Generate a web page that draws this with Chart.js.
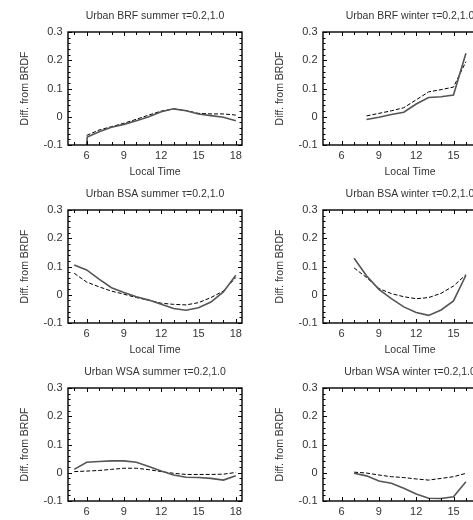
<!DOCTYPE html>
<html>
<head>
<meta charset="utf-8">
<script src="https://cdn.jsdelivr.net/npm/chart.js@4.4.1/dist/chart.umd.min.js"></script>
<style>
  html, body { margin: 0; padding: 0; background: #fff; overflow: hidden; width: 473px; height: 520px; }
  canvas { position: absolute; }
</style>
</head>
<body>
<canvas id="brfSummer" width="250" height="178" style="left:0;top:0"></canvas>
<canvas id="brfWinter" width="250" height="178" style="left:255px;top:0"></canvas>
<canvas id="bsaSummer" width="250" height="178" style="left:0;top:178px"></canvas>
<canvas id="bsaWinter" width="250" height="178" style="left:255px;top:178px"></canvas>
<canvas id="wsaSummer" width="250" height="178" style="left:0;top:356px"></canvas>
<canvas id="wsaWinter" width="250" height="178" style="left:255px;top:356px"></canvas>
<script>
// tick labels
const xTicks = [6, 9, 12, 15, 18];
const yTicks = [-0.1, 0, 0.1, 0.2, 0.3];

// local hours
const summerHours = [5, 6, 7, 8, 9, 10, 11, 12, 13, 14, 15, 16, 17, 18];
const winterHours = [7, 8, 9, 10, 11, 12, 13, 14, 15, 16];

// BRF summer (starts at 6h)
const brfSummerSolidHours = [6, 6.05, 7, 8, 9, 10, 11, 12, 13, 14, 15, 16, 17, 18];
const brfSummerSolid = [-0.1, -0.072, -0.053, -0.037, -0.027, -0.014, 0.0, 0.018, 0.028, 0.021, 0.010, 0.004, -0.002, -0.014];
const brfSummerDashedHours = [6, 7, 8, 9, 10, 11, 12, 13, 14, 15, 16, 17, 18];
const brfSummerDashed = [-0.066, -0.047, -0.035, -0.023, -0.009, 0.006, 0.020, 0.028, 0.022, 0.012, 0.010, 0.010, 0.006];

// BRF winter (8h - 16h)
const brfWinterHours = [8, 9, 10, 11, 12, 13, 14, 15, 16];
const brfWinterSolid = [-0.010, -0.002, 0.008, 0.016, 0.045, 0.068, 0.071, 0.077, 0.225];
const brfWinterDashed = [0.003, 0.012, 0.021, 0.032, 0.060, 0.088, 0.096, 0.105, 0.195];

// BSA
const bsaSummerSolid = [0.105, 0.088, 0.055, 0.025, 0.008, -0.007, -0.019, -0.034, -0.049, -0.055, -0.046, -0.026, 0.010, 0.069];
const bsaSummerDashed = [0.076, 0.045, 0.028, 0.013, 0.002, -0.010, -0.019, -0.030, -0.034, -0.036, -0.028, -0.010, 0.013, 0.061];
const bsaWinterSolid = [0.129, 0.067, 0.019, -0.014, -0.043, -0.063, -0.073, -0.054, -0.022, 0.069];
const bsaWinterDashed = [0.095, 0.061, 0.022, 0.004, -0.007, -0.014, -0.010, 0.005, 0.031, 0.071];

// WSA
const wsaSummerSolid = [0.012, 0.037, 0.040, 0.042, 0.042, 0.037, 0.022, 0.006, -0.008, -0.016, -0.017, -0.020, -0.026, -0.011];
const wsaSummerDashed = [0.004, 0.006, 0.008, 0.012, 0.016, 0.016, 0.011, 0.004, -0.002, -0.006, -0.006, -0.006, -0.005, 0.001];
const wsaWinterSolid = [-0.002, -0.011, -0.029, -0.037, -0.055, -0.075, -0.090, -0.091, -0.085, -0.032];
const wsaWinterDashed = [0.002, -0.001, -0.008, -0.014, -0.017, -0.022, -0.026, -0.020, -0.014, -0.002];

const fontFamily = "'Liberation Sans', Arial, sans-serif";
const textColor = '#333';

function pts(hours, vals) {
    return hours.map((h, i) => ({ x: h, y: vals[i] }));
}

// frame with inward ticks on all four sides
const framePlugin = {
    id: 'frame',
    afterDatasetsDraw(chart) {
        const { ctx, chartArea: a, scales: { x, y } } = chart;
        ctx.save();
        ctx.strokeStyle = '#000';
        ctx.lineWidth = 1;
        ctx.beginPath();
        for (let h = 5; h <= 18; h++) {
            const px = Math.round(x.getPixelForValue(h)) + 0.5;
            const len = xTicks.includes(h) ? 4 : 3;
            ctx.moveTo(px, a.bottom); ctx.lineTo(px, a.bottom - len);
            ctx.moveTo(px, a.top); ctx.lineTo(px, a.top + len);
        }
        for (let i = -5; i <= 15; i++) {
            const py = Math.round(y.getPixelForValue(i * 0.02)) + 0.5;
            const len = i % 5 === 0 ? 4 : 2.5;
            ctx.moveTo(a.left, py); ctx.lineTo(a.left + len, py);
            ctx.moveTo(a.right, py); ctx.lineTo(a.right - len, py);
        }
        ctx.stroke();
        ctx.lineWidth = 1.4;
        ctx.strokeRect(a.left, a.top, a.right - a.left, a.bottom - a.top);
        ctx.restore();
    }
};

function makeChart(id, title, solid, dashed) {
    new Chart(document.getElementById(id), {
        type: 'line',
        data: {
            datasets: [
                {
                    data: solid,
                    borderColor: '#555',
                    borderWidth: 1.6,
                    pointRadius: 0,
                    tension: 0
                },
                {
                    data: dashed,
                    borderColor: '#000',
                    borderWidth: 1,
                    borderDash: [4, 2],
                    pointRadius: 0,
                    tension: 0
                }
            ]
        },
        options: {
            responsive: false,
            animation: false,
            layout: { padding: { left: 0, right: 8, top: 0, bottom: 0 } },
            plugins: {
                legend: { display: false },
                tooltip: { enabled: false },
                title: {
                    display: true,
                    text: title,
                    fullSize: false,
                    color: textColor,
                    font: { family: fontFamily, size: 10.5, weight: 'normal' },
                    padding: { top: 10, bottom: 9.4 }
                }
            },
            scales: {
                x: {
                    type: 'linear',
                    min: 4.5,
                    max: 18.5,
                    grid: { display: false, drawTicks: false },
                    border: { display: false },
                    afterBuildTicks: s => { s.ticks = xTicks.map(v => ({ value: v })); },
                    afterFit: s => { s.height = 33; },
                    ticks: {
                        padding: 4,
                        color: textColor,
                        font: { family: fontFamily, size: 11 },
                        callback: v => String(v)
                    },
                    title: {
                        display: true,
                        text: 'Local Time',
                        color: textColor,
                        font: { family: fontFamily, size: 10.5 },
                        padding: { top: 0, bottom: 0 }
                    }
                },
                y: {
                    min: -0.1,
                    max: 0.3,
                    grid: { display: false, drawTicks: false },
                    border: { display: false },
                    afterBuildTicks: s => { s.ticks = yTicks.map(v => ({ value: v })); },
                    afterFit: s => { s.width = 68; },
                    ticks: {
                        padding: 5.5,
                        color: textColor,
                        font: { family: fontFamily, size: 11 },
                        callback: v => (Math.abs(v) < 1e-9 ? '0' : v.toFixed(1))
                    },
                    title: {
                        display: true,
                        text: 'Diff. from BRDF',
                        color: textColor,
                        font: { family: fontFamily, size: 10.5 },
                        padding: { top: 18.5, bottom: 0 }
                    }
                }
            }
        },
        plugins: [framePlugin]
    });
}

makeChart('brfSummer', 'Urban BRF summer \u03c4=0.2,1.0',
    pts(brfSummerSolidHours, brfSummerSolid), pts(brfSummerDashedHours, brfSummerDashed));
makeChart('brfWinter', 'Urban BRF winter \u03c4=0.2,1.0',
    pts(brfWinterHours, brfWinterSolid), pts(brfWinterHours, brfWinterDashed));
makeChart('bsaSummer', 'Urban BSA summer \u03c4=0.2,1.0',
    pts(summerHours, bsaSummerSolid), pts(summerHours, bsaSummerDashed));
makeChart('bsaWinter', 'Urban BSA winter \u03c4=0.2,1.0',
    pts(winterHours, bsaWinterSolid), pts(winterHours, bsaWinterDashed));
makeChart('wsaSummer', 'Urban WSA summer \u03c4=0.2,1.0',
    pts(summerHours, wsaSummerSolid), pts(summerHours, wsaSummerDashed));
makeChart('wsaWinter', 'Urban WSA winter \u03c4=0.2,1.0',
    pts(winterHours, wsaWinterSolid), pts(winterHours, wsaWinterDashed));
</script>
</body>
</html>
